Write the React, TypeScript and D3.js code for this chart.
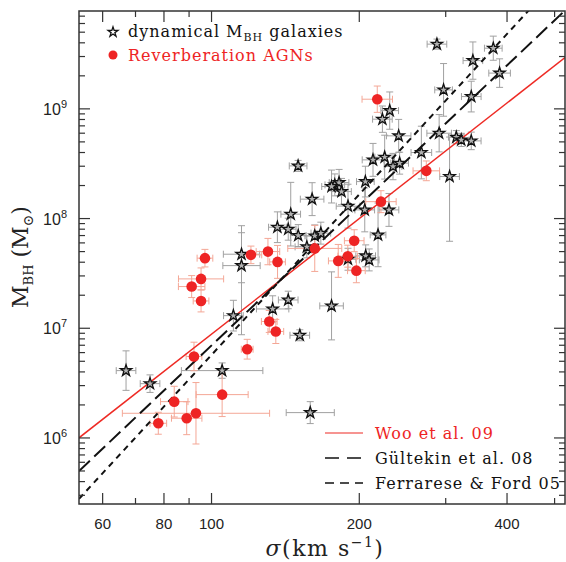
import React, { useRef, useEffect } from "react";
import * as d3 from "d3";

// sigma (km/s), sigma error (dex), log M, log M error down, log M error up (optional)
const DYNAMICAL = [
  [287.9, 0.02, 9.59, 0.046],
  [340.8, 0.02, 9.44, 0.17],
  [375.0, 0.018, 9.553, 0.11],
  [386.3, 0.022, 9.326, 0.13],
  [297.0, 0.018, 9.173, 0.24],
  [338.2, 0.02, 9.112, 0.14],
  [230.7, 0.018, 8.984, 0.17],
  [222.9, 0.02, 8.906, 0.12],
  [240.6, 0.025, 8.754, 0.15],
  [290.9, 0.025, 8.778, 0.17],
  [315.3, 0.016, 8.742, 0.06],
  [322.7, 0.016, 8.717, 0.06],
  [338.2, 0.02, 8.708, 0.08],
  [267.6, 0.021, 8.602, 0.24],
  [213.3, 0.022, 8.535, 0.15],
  [225.3, 0.02, 8.56, 0.2],
  [234.3, 0.018, 8.474, 0.12],
  [241.7, 0.018, 8.505, 0.1],
  [305.5, 0.02, 8.383, 0.59, 0.36],
  [205.8, 0.018, 8.337, 0.14],
  [178.3, 0.02, 8.307, 0.1],
  [181.9, 0.02, 8.328, 0.12],
  [184.0, 0.02, 8.246, 0.12],
  [175.6, 0.02, 8.292, 0.15],
  [150.1, 0.018, 8.48, 0.05],
  [160.3, 0.024, 8.177, 0.15],
  [145.0, 0.02, 8.04, 0.29],
  [136.2, 0.018, 7.921, 0.14],
  [143.3, 0.016, 7.903, 0.1],
  [150.2, 0.016, 7.845, 0.1],
  [162.3, 0.02, 7.842, 0.1],
  [167.0, 0.02, 7.867, 0.1],
  [156.4, 0.024, 7.742, 0.1],
  [189.7, 0.024, 8.113, 0.2],
  [205.2, 0.02, 8.079, 0.2],
  [229.9, 0.02, 8.079, 0.15],
  [218.4, 0.016, 7.851, 0.29],
  [206.1, 0.02, 7.66, 0.1],
  [209.5, 0.02, 7.623, 0.1],
  [189.7, 0.016, 7.629, 0.1],
  [115.1, 0.037, 7.675, 0.26],
  [115.1, 0.038, 7.571, 0.63, 0.3],
  [110.8, 0.02, 7.115, 0.14],
  [133.2, 0.033, 7.176, 0.12],
  [143.3, 0.02, 7.258, 0.08],
  [175.6, 0.024, 7.204, 0.31],
  [151.3, 0.02, 6.936, 0.05],
  [158.9, 0.049, 6.231, 0.1],
  [66.96, 0.02, 6.614, 0.18],
  [74.94, 0.02, 6.495, 0.08],
  [105.1, 0.083, 6.614, 0.07],
];

const REVERBERATION = [
  [217.6, 0.031, 9.088, 0.12],
  [273.9, 0.027, 8.435, 0.09],
  [221.4, 0.031, 8.154, 0.1],
  [195.3, 0.02, 7.798, 0.1],
  [189.5, 0.02, 7.657, 0.1],
  [181.2, 0.02, 7.614, 0.15],
  [197.3, 0.018, 7.525, 0.11],
  [162.3, 0.055, 7.728, 0.21],
  [130.3, 0.024, 7.699, 0.12],
  [120.3, 0.022, 7.669, 0.08],
  [136.3, 0.016, 7.605, 0.15],
  [96.96, 0.016, 7.639, 0.08],
  [95.2, 0.046, 7.45, 0.1],
  [91.1, 0.027, 7.38, 0.1],
  [95.2, 0.016, 7.249, 0.1],
  [131.1, 0.016, 7.062, 0.1],
  [135.2, 0.016, 6.971, 0.11],
  [118.2, 0.012, 6.809, 0.09],
  [92.1, 0.016, 6.743, 0.13],
  [105.1, 0.053, 6.395, 0.2],
  [83.95, 0.028, 6.331, 0.14],
  [92.96, 0.15, 6.225, 0.28],
  [89.0, 0.031, 6.18, 0.15],
  [77.9, 0.017, 6.134, 0.1],
];

// log M = alpha + beta * log(sigma / 200)
const FITS = [
  { name: "Woo et al. 09", alpha: 8.0, beta: 3.5, color: "#ee2a24", dash: null, width: 1.5 },
  { name: "Gültekin et al. 08", alpha: 8.12, beta: 4.24, color: "#111", dash: "15,6", width: 2 },
  { name: "Ferrarese & Ford 05", alpha: 8.22, beta: 4.86, color: "#111", dash: "6,5", width: 2 },
];

const SIGMA_DOMAIN = [53.7, 525];
const MASS_DOMAIN = [2.5e5, 7.8e9];
const X_MAJOR = [60, 80, 100, 200, 400];
const X_MINOR = [70, 90, 300, 500];
const Y_MAJOR = [1e6, 1e7, 1e8, 1e9];

const RED = "#ee2424";
const SERIF = "'DejaVu Serif', serif";

const App = () => {
  const svgRef = useRef(null);

  useEffect(() => {
    const svg = d3.select(svgRef.current);
    svg.selectAll("*").remove();

    const L = 79, R = 565, T = 11, B = 504;
    const x = d3.scaleLog().domain(SIGMA_DOMAIN).range([L, R]);
    const y = d3.scaleLog().domain(MASS_DOMAIN).range([B, T]);
    const yMinor = y.ticks().filter((v) => !Y_MAJOR.includes(v));

    svg.append("defs").append("clipPath").attr("id", "plot")
      .append("rect").attr("x", L).attr("y", T).attr("width", R - L).attr("height", B - T);

    const plot = svg.append("g").attr("clip-path", "url(#plot)");

    // error bars
    const errBars = (g, data, color) => {
      const cap = 3.5;
      data.forEach((d) => {
        const [s, se, m, md, mu0] = d;
        const mu = mu0 ?? md;
        const cx = x(s), cy = y(10 ** m);
        const x0 = x(s * 10 ** -se), x1 = x(s * 10 ** se);
        const y0 = y(10 ** (m - md)), y1 = y(10 ** (m + mu));
        const p = d3.path();
        p.moveTo(x0, cy); p.lineTo(x1, cy);
        p.moveTo(x0, cy - cap); p.lineTo(x0, cy + cap);
        p.moveTo(x1, cy - cap); p.lineTo(x1, cy + cap);
        p.moveTo(cx, y0); p.lineTo(cx, y1);
        p.moveTo(cx - cap, y0); p.lineTo(cx + cap, y0);
        p.moveTo(cx - cap, y1); p.lineTo(cx + cap, y1);
        g.append("path").attr("d", p.toString()).attr("fill", "none")
          .attr("stroke", color).attr("stroke-width", 1);
      });
    };
    errBars(plot.append("g"), DYNAMICAL, "#a0a0a0");
    errBars(plot.append("g"), REVERBERATION, "#f4a796");

    // fit lines
    const line = d3.line().x((d) => x(d[0])).y((d) => y(d[1]));
    FITS.forEach((f) => {
      const pts = SIGMA_DOMAIN.map((s) => [s, 10 ** (f.alpha + f.beta * Math.log10(s / 200))]);
      plot.append("path").datum(pts).attr("d", line).attr("fill", "none")
        .attr("stroke", f.color).attr("stroke-width", f.width)
        .attr("stroke-dasharray", f.dash);
    });

    const star = d3.symbol(d3.symbolStar, 40)();
    plot.append("g").selectAll("path").data(DYNAMICAL).join("path")
      .attr("d", star)
      .attr("transform", (d) => `translate(${x(d[0])},${y(10 ** d[2])})`)
      .attr("fill", "#b0b0b0").attr("stroke", "#111").attr("stroke-width", 1.3);

    plot.append("g").selectAll("circle").data(REVERBERATION).join("circle")
      .attr("cx", (d) => x(d[0])).attr("cy", (d) => y(10 ** d[2])).attr("r", 5.3)
      .attr("fill", RED);

    // frame and ticks
    svg.append("rect").attr("x", L).attr("y", T).attr("width", R - L).attr("height", B - T)
      .attr("fill", "none").attr("stroke", "#333").attr("stroke-width", 1.5);

    const ticks = svg.append("g").attr("stroke", "#333").attr("stroke-width", 1.2);
    const xt = (vals, len) => vals.forEach((v) => {
      ticks.append("line").attr("x1", x(v)).attr("x2", x(v)).attr("y1", B).attr("y2", B - len);
      ticks.append("line").attr("x1", x(v)).attr("x2", x(v)).attr("y1", T).attr("y2", T + len);
    });
    const yt = (vals, len) => vals.forEach((v) => {
      ticks.append("line").attr("y1", y(v)).attr("y2", y(v)).attr("x1", L).attr("x2", L + len);
      ticks.append("line").attr("y1", y(v)).attr("y2", y(v)).attr("x1", R).attr("x2", R - len);
    });
    xt(X_MAJOR, 11); xt(X_MINOR, 6);
    yt(Y_MAJOR, 11); yt(yMinor, 6);

    svg.append("g").selectAll("text").data(X_MAJOR).join("text")
      .attr("x", (d) => x(d)).attr("y", 529).attr("text-anchor", "middle")
      .attr("font-family", "'Liberation Sans', Arial, sans-serif").attr("font-size", 15)
      .attr("fill", "#222").text((d) => d);

    Y_MAJOR.forEach((v) => {
      const t = svg.append("text").attr("x", 67).attr("y", y(v) + 6).attr("text-anchor", "end")
        .attr("font-family", "'Liberation Sans', Arial, sans-serif").attr("font-size", 16).attr("fill", "#222");
      t.append("tspan").text("10");
      t.append("tspan").attr("dy", -7).attr("font-size", 11).text(Math.round(Math.log10(v)));
    });

    // axis titles
    const xl = svg.append("text").attr("x", 325).attr("y", 556).attr("text-anchor", "middle")
      .attr("font-family", SERIF).attr("font-size", 22).attr("fill", "#222").attr("letter-spacing", 1.5);
    xl.append("tspan").attr("font-style", "italic").text("σ");
    xl.append("tspan").text("(km s");
    xl.append("tspan").attr("dy", -9).attr("font-size", 14).text("−1");
    xl.append("tspan").attr("dy", 9).text(")");

    const yl = svg.append("text").attr("transform", "translate(28,257) rotate(-90)")
      .attr("text-anchor", "middle").attr("font-family", SERIF).attr("font-size", 22).attr("fill", "#222");
    yl.append("tspan").text("M");
    yl.append("tspan").attr("dy", 5).attr("font-size", 13).text("BH");
    yl.append("tspan").attr("dy", -5).text("  (M");
    yl.append("tspan").attr("dy", 5).attr("font-size", 14).text("⊙");
    yl.append("tspan").attr("dy", -5).text(")");

    // top legend
    svg.append("path").attr("d", d3.symbol(d3.symbolStar, 30)())
      .attr("transform", "translate(113,32)").attr("fill", "#fff")
      .attr("stroke", "#111").attr("stroke-width", 1.3);
    const l1 = svg.append("text").attr("x", 128).attr("y", 37)
      .attr("font-family", SERIF).attr("font-size", 16).attr("fill", "#111").attr("letter-spacing", 1);
    l1.append("tspan").text("dynamical M");
    l1.append("tspan").attr("dy", 4).attr("font-size", 11).text("BH");
    l1.append("tspan").attr("dy", -4).text(" galaxies");
    svg.append("circle").attr("cx", 113).attr("cy", 55).attr("r", 4.5).attr("fill", RED);
    svg.append("text").attr("x", 128).attr("y", 61).attr("font-family", SERIF).attr("letter-spacing", 1)
      .attr("font-size", 16).attr("fill", RED).text("Reverberation AGNs");

    // bottom legend
    FITS.forEach((f, i) => {
      const ly = 433 + i * 25;
      svg.append("line").attr("x1", 325).attr("x2", 363).attr("y1", ly).attr("y2", ly)
        .attr("stroke", f.color).attr("stroke-width", f.width === 2 ? 1.6 : 1.2)
        .attr("stroke-dasharray", f.dash ? (i === 1 ? "14,8" : "9,6") : null);
      svg.append("text").attr("x", 375).attr("y", ly + 6).attr("font-family", SERIF)
        .attr("font-size", 16).attr("letter-spacing", 1)
        .attr("fill", i === 0 ? RED : "#111").text(f.name);
    });
  }, []);

  return (
    <svg ref={svgRef} width={566} height={562}
      style={{ position: "absolute", left: 0, top: 0, background: "#fff" }} />
  );
};

export default App;
